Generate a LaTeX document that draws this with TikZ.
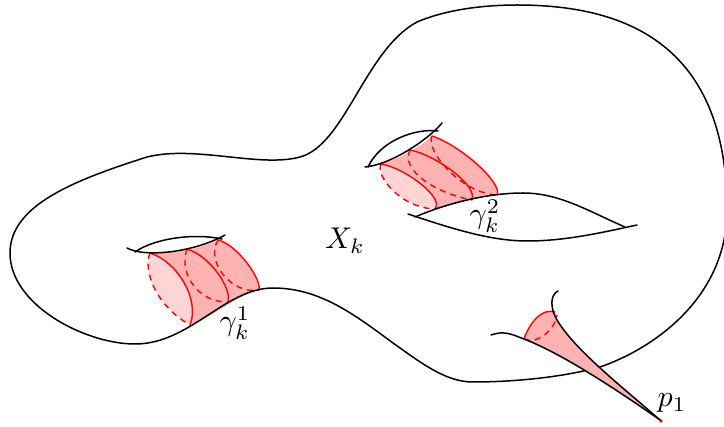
\documentclass[tikz,border=0pt]{standalone}
\tikzset{
  blackline/.style={black,line width=1.5pt,line cap=round},
  redsolid/.style={red,line width=1.4pt,line cap=round},
  reddash/.style={red,line width=1.4pt,dash pattern=on 6pt off 5pt},
  tubefill/.style={fill=red!30},
  endfill/.style={fill=red!17},
  lbl/.style={scale=3,inner sep=0pt}
}
\begin{document}
\begin{tikzpicture}[x=1pt,y=-1pt]
\useasboundingbox (0,0) rectangle (724,427);
% tube 1
\fill[tubefill] (150,253) .. controls (175,253) and (200,249) .. (218,240)
  .. controls (238,245) and (262,280) .. (259,290)
  .. controls (235,296) and (212,318) .. (190,325)
  .. controls (200,300) and (178,262) .. (150,253) -- cycle;
\fill[endfill] (150,253) .. controls (178,262) and (200,300) .. (190,325)
  .. controls (155,305) and (143,270) .. (150,253) -- cycle;
\draw[reddash] (150,253) .. controls (143,270) and (155,305) .. (190,325);
\draw[redsolid] (150,253) .. controls (178,262) and (200,300) .. (190,325);
\draw[reddash] (187,249) .. controls (178,275) and (200,303) .. (228,302);
\draw[redsolid] (187,249) .. controls (212,257) and (232,290) .. (228,302);
\draw[reddash] (218,240) .. controls (205,262) and (232,295) .. (259,290);
\draw[redsolid] (218,240) .. controls (238,245) and (262,280) .. (259,290);
% tube 2
\fill[tubefill] (381,164) .. controls (395,160) and (420,148) .. (432,136)
  .. controls (460,145) and (503,183) .. (497,195)
  .. controls (475,197) and (455,205) .. (435,209)
  .. controls (445,198) and (405,168) .. (381,164) -- cycle;
\fill[endfill] (381,164) .. controls (405,168) and (445,198) .. (435,209)
  .. controls (400,208) and (375,175) .. (381,164) -- cycle;
\draw[reddash] (381,164) .. controls (375,175) and (400,208) .. (435,209);
\draw[redsolid] (381,164) .. controls (405,168) and (445,198) .. (435,209);
\draw[reddash] (410,150) .. controls (400,170) and (435,193) .. (472,200);
\draw[redsolid] (410,150) .. controls (435,155) and (478,185) .. (472,200);
\draw[reddash] (432,136) .. controls (425,150) and (460,193) .. (497,195);
\draw[redsolid] (432,136) .. controls (460,145) and (503,183) .. (497,195);
% outer surface
\draw[blackline] (135,344) .. controls (85,344) and (10,305) .. (10,253)
  .. controls (10,205) and (75,180) .. (147,157)
  .. controls (195,145) and (260,168) .. (300,157)
  .. controls (345,145) and (365,50) .. (417,22)
  .. controls (450,8) and (490,5) .. (517,5)
  .. controls (620,5) and (727,40) .. (727,210)
  .. controls (727,300) and (650,350) .. (600,367)
  .. controls (560,378) and (510,382) .. (473,382)
  .. controls (445,382) and (420,362) .. (393,343)
  .. controls (355,315) and (320,288) .. (273,288)
  .. controls (225,288) and (190,344) .. (135,344) -- cycle;
% handles
\draw[blackline] (127,248) .. controls (145,258) and (195,252) .. (225,235);
\draw[blackline] (135,252) .. controls (155,238) and (195,233) .. (222,239);
\draw[blackline] (365,167) .. controls (390,165) and (428,140) .. (442,123);
\draw[blackline] (368,167) .. controls (380,141) and (415,128) .. (438,131);
% eye below handle 2
\draw[blackline] (415,217) .. controls (450,202) and (490,193) .. (523,193)
  .. controls (560,193) and (590,212) .. (625,227);
\draw[blackline] (408,214) .. controls (450,228) and (490,241) .. (527,241)
  .. controls (565,241) and (600,233) .. (637,225);
% cusp
\fill[tubefill] (524,339) .. controls (530,322) and (542,308) .. (555,312) -- (557,320)
  .. controls (575,350) and (620,385) .. (660,420)
  .. controls (610,385) and (560,353) .. (524,339) -- cycle;
\draw[redsolid] (524,339) .. controls (530,322) and (542,308) .. (555,312);
\draw[reddash] (524,339) .. controls (537,345) and (555,330) .. (557,315);
\draw[blackline] (558,291) .. controls (550,295) and (550,308) .. (557,320)
  .. controls (575,350) and (620,385) .. (660,420);
\draw[blackline] (491,335) .. controls (505,330) and (513,335) .. (524,339)
  .. controls (560,353) and (610,385) .. (660,420);
\fill[red] (661,421) circle (1.8);
% labels
\node[lbl] (xk) at (345,241) {$X_k$};
\node[lbl] (gone) at (235,323) {$\gamma_k^1$};
\node[lbl] (gtwo) at (485,216) {$\gamma_k^2$};
\node[lbl] (pone) at (672,403) {$p_1$};
\end{tikzpicture}
\end{document}
